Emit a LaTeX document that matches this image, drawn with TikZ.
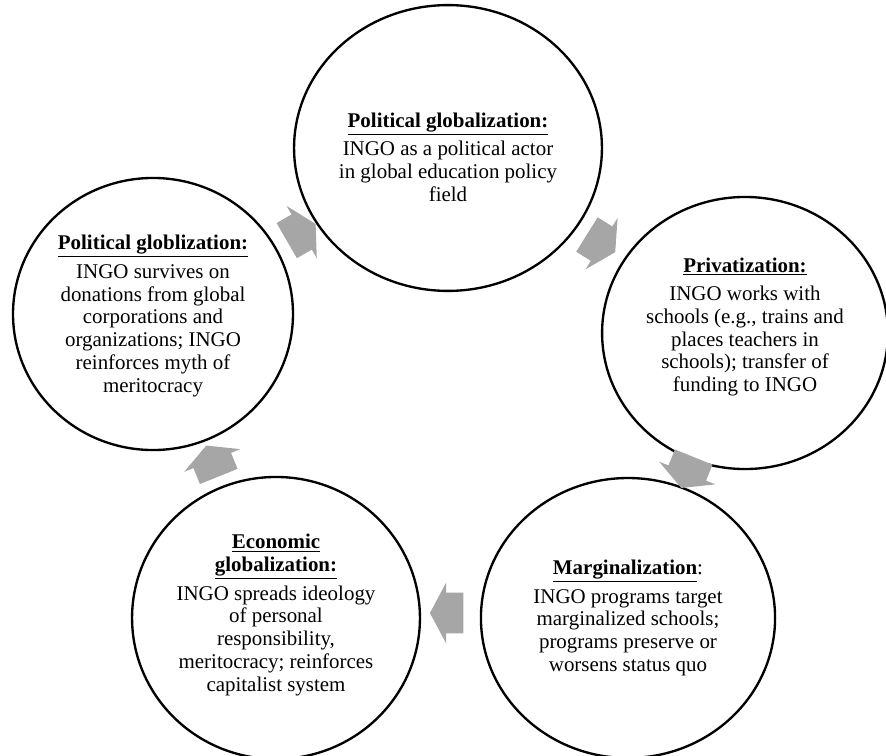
\documentclass[tikz,border=0pt]{standalone}
\usepackage{fontspec}
\setmainfont{Liberation Serif}
\usetikzlibrary{calc,shapes.geometric,shapes.arrows}

\definecolor{arrowgray}{RGB}{166,166,166}

\tikzset{
	bubble/.style={draw, ellipse, line width=1.6pt, inner sep=0pt},
	blurb/.style={align=center, inner sep=0pt, font=\fontsize{14.3}{15.5}\selectfont},
	cyclearrow/.style={single arrow, fill=arrowgray, draw=none,
		inner xsep=0pt, inner ysep=0.48cm, minimum height=0.8cm,
		single arrow head extend=0.24cm, single arrow tip angle=124},
}

\newcommand{\heading}[1]{\underline{\textbf{#1}}}

\begin{document}
\begin{tikzpicture}[x=0.024cm, y=-0.024cm]

	% ---- frame

	\useasboundingbox (0,0) rectangle (886,756);

	% ---- circles

	\node[bubble, minimum width=7.39cm, minimum height=6.86cm] (top) at (448,148) {};
	\node[bubble, minimum width=6.86cm, minimum height=6.53cm] (right) at (745,333) {};
	\node[bubble, minimum width=7.06cm, minimum height=6.72cm] (bright) at (628,618) {};
	\node[bubble, minimum width=6.91cm, minimum height=6.77cm] (bleft) at (276,618) {};
	\node[bubble, minimum width=6.72cm, minimum height=6.53cm] (left) at (153,314) {};

	% ---- texts

	\node[blurb] (toptxt) at ($(top)+(0,9)$) {\heading{Political globalization:}\\[4pt]
		INGO as a political actor\\ in global education policy\\ field};

	\node[blurb] (righttxt) at ($(right)+(0,-6)$) {\heading{Privatization:}\\[4pt]
		INGO works with\\ schools (e.g., trains and\\ places teachers in\\
		schools); transfer of\\ funding to INGO};

	\node[blurb] (brighttxt) at (bright) {\heading{Marginalization}:\\[4pt]
		INGO programs target\\ marginalized schools;\\ programs preserve or\\
		worsens status quo};

	\node[blurb] (blefttxt) at ($(bleft)+(0,-3)$) {\heading{Economic}\\ \heading{globalization:}\\[4pt]
		INGO spreads ideology\\ of personal\\ responsibility,\\
		meritocracy; reinforces\\ capitalist system};

	\node[blurb] (lefttxt) at ($(left)+(0,2)$) {\heading{Political globlization:}\\[4pt]
		INGO survives on\\ donations from global\\ corporations and\\
		organizations; INGO\\ reinforces myth of\\ meritocracy};

	% ---- arrows

	\node[cyclearrow, rotate=-32] (a1) at ($(top)!0.5!(right)$) {};
	\node[cyclearrow, rotate=-112] (a2) at ($(right)!0.5!(bright)+(3,-8)$) {};
	\node[cyclearrow, rotate=180] (a3) at ($(bright)!0.5!(bleft)+(0,-5)$) {};
	\node[cyclearrow, rotate=112] (a4) at ($(bleft)!0.5!(left)$) {};
	\node[cyclearrow, rotate=30] (a5) at ($(left)!0.5!(top)+(-4,4)$) {};

\end{tikzpicture}
\end{document}
